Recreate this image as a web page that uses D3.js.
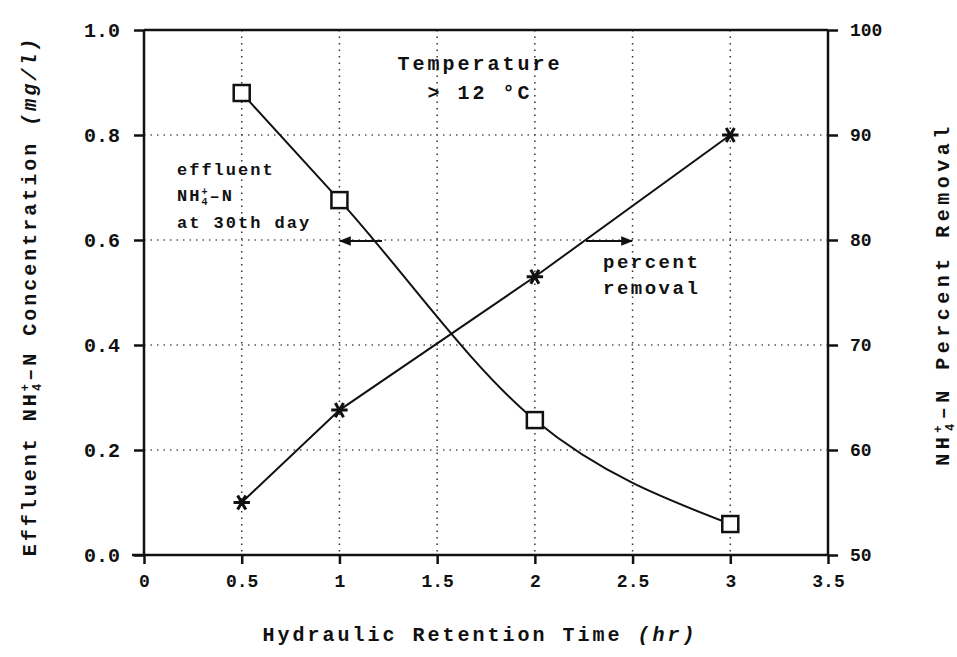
<!DOCTYPE html>
<html>
<head>
<meta charset="utf-8">
<script src="https://cdn.jsdelivr.net/npm/d3@7"></script>
<style>
  body { margin: 0; background: #fff; }
  text { font-family: "Liberation Mono", "DejaVu Sans Mono", monospace; font-weight: bold; fill: #111; }
</style>
</head>
<body>
<svg id="chart"></svg>
<script>
// data
var hrt = [0.5, 1, 2, 3];
var concentration = [0.88, 0.676, 0.257, 0.059];   // mg/l, squares
var percentRemoval = [55, 63.8, 76.5, 90];          // %, stars
var xTicks = [0, 0.5, 1, 1.5, 2, 2.5, 3, 3.5];
var yLeftTicks = [0, 0.2, 0.4, 0.6, 0.8, 1.0];
var yRightTicks = [50, 60, 70, 80, 90, 100];

var W = 957, H = 657;
var margin = { top: 30, right: 129, bottom: 102, left: 144 },
  width = W - margin.left - margin.right,
  height = H - margin.top - margin.bottom;

var svg = d3.select("#chart").attr("width", W).attr("height", H);
var g = svg.append("g").attr("transform", "translate(" + margin.left + "," + margin.top + ")");

var x = d3.scaleLinear().domain([0, 3.5]).range([0, width]);
var yL = d3.scaleLinear().domain([0, 1]).range([height, 0]);
var yR = d3.scaleLinear().domain([50, 100]).range([height, 0]);

// dotted grid
g.selectAll(".vgrid").data(xTicks.slice(1, -1)).enter().append("line")
  .attr("x1", d => x(d)).attr("x2", d => x(d))
  .attr("y1", 0).attr("y2", height)
  .attr("stroke", "#333").attr("stroke-width", 1.5)
  .attr("stroke-dasharray", "1.5,5");
g.selectAll(".hgrid").data(yLeftTicks.slice(1, -1)).enter().append("line")
  .attr("x1", 0).attr("x2", width)
  .attr("y1", d => yL(d)).attr("y2", d => yL(d))
  .attr("stroke", "#556").attr("stroke-width", 1.5)
  .attr("stroke-dasharray", "1.5,5");

// frame top
g.append("line").attr("x1", 0).attr("x2", width).attr("y1", 0).attr("y2", 0)
  .attr("stroke", "#111").attr("stroke-width", 2.5);

// axes
var xAxis = g.append("g").attr("transform", "translate(0," + height + ")")
  .call(d3.axisBottom(x).tickValues(xTicks).tickFormat(d => d).tickSize(9).tickPadding(10));
var yAxisL = g.append("g")
  .call(d3.axisLeft(yL).tickValues(yLeftTicks).tickFormat(d3.format(".1f")).tickSize(10).tickPadding(14));
var yAxisR = g.append("g").attr("transform", "translate(" + width + ",0)")
  .call(d3.axisRight(yR).tickValues(yRightTicks).tickSize(10).tickPadding(12));

[xAxis, yAxisL, yAxisR].forEach(function(a) {
  a.select(".domain").attr("stroke", "#111").attr("stroke-width", 2.5);
  a.selectAll(".tick line").attr("stroke", "#111").attr("stroke-width", 2.5);
  a.selectAll(".tick text").style("font-size", "18px").attr("fill", "#111");
});
yAxisL.selectAll(".tick text").style("font-size", "20px");
yAxisR.select(".domain").attr("d", "M0,0V" + height);
yAxisL.select(".domain").attr("d", "M0,0V" + height);
xAxis.select(".domain").attr("d", "M-12,0H" + width);

// lines
var concLine = d3.line()
  .x((d, i) => x(hrt[i])).y(d => yL(d))
  .curve(d3.curveMonotoneX);
var remLine = d3.line()
  .x((d, i) => x(hrt[i])).y(d => yR(d));

g.append("path").datum(concentration).attr("d", concLine)
  .attr("fill", "none").attr("stroke", "#111").attr("stroke-width", 2);
g.append("path").datum(percentRemoval).attr("d", remLine)
  .attr("fill", "none").attr("stroke", "#111").attr("stroke-width", 2);

// square markers
g.selectAll(".sq").data(concentration).enter().append("rect")
  .attr("x", (d, i) => x(hrt[i]) - 8).attr("y", d => yL(d) - 8)
  .attr("width", 16).attr("height", 16)
  .attr("fill", "#fff").attr("stroke", "#111").attr("stroke-width", 2.5);

// star markers
g.selectAll(".st").data(percentRemoval).enter().append("path")
  .attr("d", d3.symbol().type(d3.symbolAsterisk).size(190))
  .attr("transform", (d, i) => "translate(" + x(hrt[i]) + "," + yR(d) + ") rotate(90)")
  .attr("fill", "none").attr("stroke", "#111").attr("stroke-width", 3);

// annotations
svg.append("text").attr("x", 480).attr("y", 70).attr("text-anchor", "middle")
  .style("font-size", "20px").style("letter-spacing", "3px").text("Temperature");
svg.append("text").attr("x", 480).attr("y", 99).attr("text-anchor", "middle")
  .style("font-size", "20px").style("letter-spacing", "3px").text("> 12 \u00B0C");

var eff = svg.append("text").style("font-size", "17px").style("letter-spacing", "2px");
eff.append("tspan").attr("x", 177).attr("y", 175).text("effluent");
var nh = eff.append("tspan").attr("x", 177).attr("y", 201);
nh.append("tspan").text("NH");
nh.append("tspan").attr("dy", -6).style("font-size", "10px").text("+");
nh.append("tspan").attr("dx", -8).attr("dy", 10).style("font-size", "10px").text("4");
nh.append("tspan").attr("dy", -4).text("\u2013N");
eff.append("tspan").attr("x", 177).attr("y", 228).text("at 30th day");

var pr = svg.append("text").style("font-size", "19px").style("letter-spacing", "2.5px");
pr.append("tspan").attr("x", 603).attr("y", 268).text("percent");
pr.append("tspan").attr("x", 603).attr("y", 294).text("removal");

// arrows
svg.append("defs").append("marker").attr("id", "ah")
  .attr("viewBox", "0 0 10 10").attr("refX", 9).attr("refY", 5)
  .attr("markerWidth", 7).attr("markerHeight", 6).attr("orient", "auto")
  .append("path").attr("d", "M0,1L10,5L0,9Z").attr("fill", "#111");
svg.append("line").attr("x1", 382).attr("x2", 340).attr("y1", 241).attr("y2", 241)
  .attr("stroke", "#111").attr("stroke-width", 2).attr("marker-end", "url(#ah)");
svg.append("line").attr("x1", 586).attr("x2", 632).attr("y1", 241).attr("y2", 241)
  .attr("stroke", "#111").attr("stroke-width", 2).attr("marker-end", "url(#ah)");

// axis titles
svg.append("text").attr("x", 480).attr("y", 641).attr("text-anchor", "middle")
  .style("font-size", "20px").style("letter-spacing", "3px")
  .html('Hydraulic Retention Time <tspan font-style="italic">(hr)</tspan>');

var lt = svg.append("text").attr("text-anchor", "middle")
  .attr("transform", "translate(36,296) rotate(-90)")
  .style("font-size", "20px").style("letter-spacing", "3px");
lt.append("tspan").text("Effluent NH");
lt.append("tspan").attr("dy", -7).style("font-size", "12px").text("+");
lt.append("tspan").attr("dx", -10).attr("dy", 12).style("font-size", "12px").text("4");
lt.append("tspan").attr("dy", -5).text("\u2013N Concentration ");
lt.append("tspan").style("font-style", "italic").text("(mg/l)");

var rt = svg.append("text").attr("text-anchor", "middle")
  .attr("transform", "translate(949,294) rotate(-90)")
  .style("font-size", "20px").style("letter-spacing", "4.5px");
rt.append("tspan").text("NH");
rt.append("tspan").attr("dy", -7).style("font-size", "12px").text("+");
rt.append("tspan").attr("dx", -10).attr("dy", 12).style("font-size", "12px").text("4");
rt.append("tspan").attr("dy", -5).text("\u2013N Percent Removal");
</script>
</body>
</html>
